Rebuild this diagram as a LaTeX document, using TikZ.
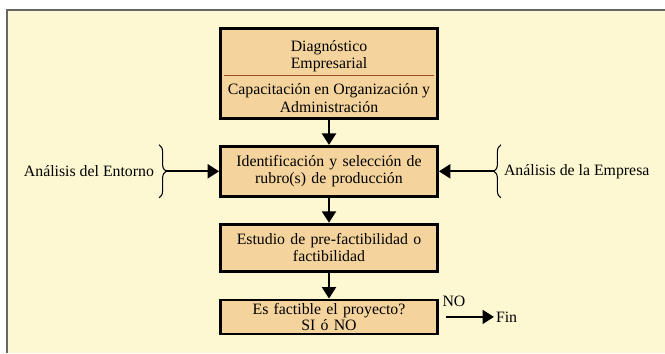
\documentclass[tikz,border=0pt]{standalone}
\usepackage{fontspec}
\setmainfont{Liberation Serif}
\usetikzlibrary{arrows.meta, positioning, decorations.pathreplacing}
\definecolor{paperBg}{HTML}{FDF8D2}
\definecolor{boxTan}{HTML}{F4D49C}
\definecolor{splitBrown}{HTML}{9C4A2A}
\definecolor{frameGray}{HTML}{666666}

\begin{document}
\begin{tikzpicture}[
    node distance=0.5cm,
    flowbox/.style={rectangle, draw=black, line width=1.6pt, fill=boxTan,
                 minimum width=4.3cm, text width=4.2cm, align=center,
                 font=\fontsize{9}{10}\selectfont, inner sep=2pt},
    plain/.style={font=\fontsize{9}{10}\selectfont, inner sep=1pt, align=center},
    flowarrow/.style={-{Triangle[length=6.5pt,width=8pt]}, line width=1.1pt},
    bracegroup/.style={decorate, decoration={brace, amplitude=4pt}, line width=0.6pt},
  ]
    \useasboundingbox (0,0) rectangle (13.3,7.06);
    \fill[white] (0,0) rectangle (13.3,7.06);
    \fill[paperBg] (0.14,0) rectangle (13.3,6.86);
    \draw[frameGray, line width=0.9pt] (0.14,0) -- (0.14,6.86) -- (13.3,6.86);

    % main column
    \node[flowbox, minimum height=1.8cm] (box1) at (6.58,5.59) {};
    \node[plain] (diag) at ([yshift=-0.58cm]box1.north) {Diagnóstico\\Empresarial};
    \node[plain] (capac) at ([yshift=0.44cm]box1.south) {Capacitación en Organización y\\Administración};
    \draw[splitBrown, line width=0.6pt] ([shift={(0.1,-0.96)}]box1.north west) -- ([shift={(-0.1,-0.96)}]box1.north east);

    \node[flowbox, minimum height=1.0cm, below=of box1] (box2) {Identificación y selección de\\rubro(s) de producción};
    \node[flowbox, minimum height=0.94cm, below=of box2] (box3) {Estudio de pre-factibilidad o\\factibilidad};
    \node[flowbox, minimum height=0.68cm, inner ysep=0pt, font=\fontsize{9}{9}\selectfont,
          below=0.52cm of box3] (box4) {Es factible el proyecto?\\SI ó NO};

    \draw[flowarrow] (box1) -- (box2);
    \draw[flowarrow] (box2) -- (box3);
    \draw[flowarrow] (box3) -- (box4);

    % side inputs
    \coordinate (entornoTip) at ([xshift=-1.06cm]box2.west);
    \coordinate (empresaTip) at ([xshift=1.12cm]box2.east);
    \draw[bracegroup] ([shift={(-0.14,0.53)}]entornoTip) -- ([shift={(-0.14,-0.53)}]entornoTip);
    \draw[bracegroup] ([shift={(0.12,-0.53)}]empresaTip) -- ([shift={(0.12,0.53)}]empresaTip);
    \node[plain, left=0.2cm of entornoTip] (entorno) {Análisis del Entorno};
    \node[plain, right=0.14cm of empresaTip] (empresa) {Análisis de la Empresa};
    \draw[flowarrow] (entornoTip) -- (box2.west);
    \draw[flowarrow] (empresaTip) -- (box2.east);

    % exit
    \node[plain] (noLabel) at ([xshift=0.3cm, yshift=0.31cm]box4.east) {NO};
    \node[plain, right=1.1cm of box4.east] (fin) {Fin};
    \draw[flowarrow, shorten <=0.14cm] (box4.east) -- (fin.west);
\end{tikzpicture}
\end{document}
